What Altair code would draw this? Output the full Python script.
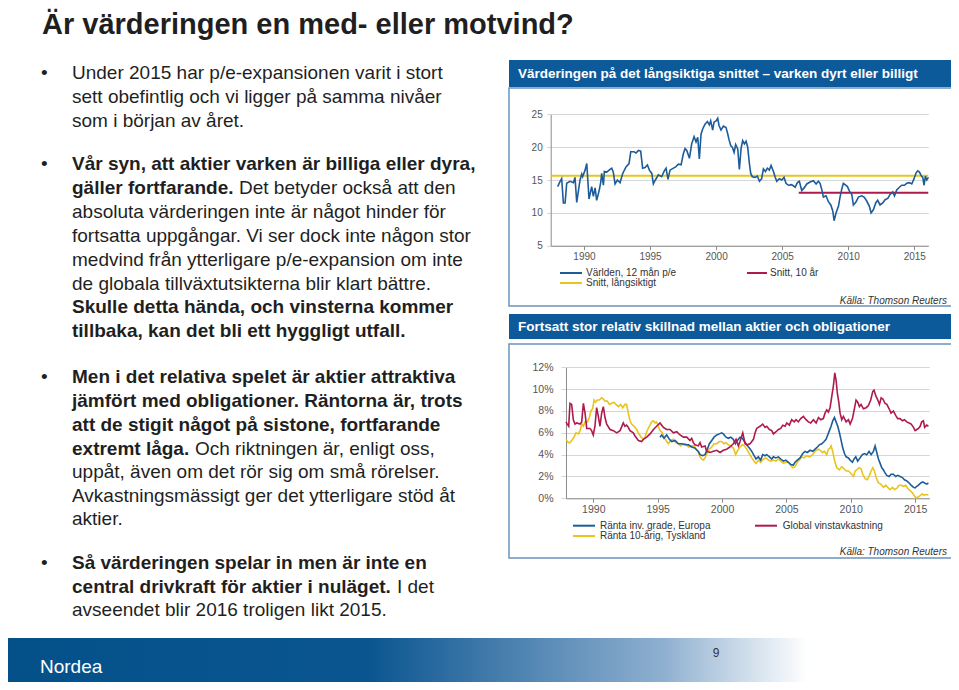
import altair as alt
import pandas as pd

FONT = "Liberation Sans"
W, H = 943, 674
BLUE, YELLOW, RED = "#1d5c99", "#e9c41d", "#ae1a4c"
BAR = "#0d5a9a"
INK = "#1f1f1f"

# ---------------- data: top chart (P/E) ----------------
pe_series = [
    (1988.01, 14.0), (1988.19, 14.8), (1988.31, 15.2), (1988.44, 11.5), (1988.57, 11.5),
    (1988.69, 14.5), (1988.94, 14.8), (1989.20, 14.6), (1989.32, 15.4), (1989.45, 11.6),
    (1989.70, 15.0), (1989.83, 15.9), (1989.90, 15.5), (1990.08, 16.5), (1990.21, 17.5),
    (1990.38, 12.1), (1990.58, 14.0), (1990.71, 12.5), (1990.84, 13.8), (1990.96, 11.9),
    (1991.16, 13.5), (1991.27, 14.7), (1991.34, 16.0), (1991.47, 14.2), (1991.54, 16.3),
    (1991.72, 16.2), (1991.97, 16.6), (1992.10, 16.8), (1992.22, 16.2), (1992.35, 14.4),
    (1992.53, 15.0), (1992.73, 14.6), (1992.93, 16.0), (1993.18, 17.0), (1993.41, 17.5),
    (1993.54, 19.3), (1993.79, 19.3), (1993.94, 19.1), (1994.12, 19.5), (1994.29, 19.4),
    (1994.44, 16.8), (1994.62, 16.9), (1994.80, 17.3), (1994.95, 16.5), (1995.13, 16.0),
    (1995.25, 14.4), (1995.40, 15.0), (1995.63, 15.8), (1995.88, 15.5), (1996.06, 16.3),
    (1996.21, 16.8), (1996.36, 15.1), (1996.51, 16.5), (1996.77, 16.8), (1996.94, 17.0),
    (1997.14, 17.4), (1997.35, 17.3), (1997.52, 19.0), (1997.65, 19.8), (1997.78, 19.5),
    (1997.98, 18.3), (1998.15, 20.5), (1998.33, 21.6), (1998.48, 20.8), (1998.61, 21.5),
    (1998.73, 18.2), (1998.86, 22.0), (1998.99, 22.8), (1999.16, 23.5), (1999.34, 23.9),
    (1999.49, 23.4), (1999.59, 24.0), (1999.74, 22.6), (1999.84, 23.8), (2000.00, 24.0),
    (2000.12, 24.4), (2000.22, 23.3), (2000.37, 22.6), (2000.55, 23.2), (2000.75, 23.0),
    (2000.88, 22.0), (2000.98, 21.1), (2001.11, 20.2), (2001.23, 20.0), (2001.36, 19.2),
    (2001.48, 20.4), (2001.64, 19.7), (2001.76, 16.6), (2001.89, 19.8), (2002.01, 21.0),
    (2002.14, 20.5), (2002.27, 20.9), (2002.39, 20.0), (2002.52, 17.5), (2002.62, 16.0),
    (2002.74, 15.5), (2002.95, 15.4), (2003.12, 15.6), (2003.28, 14.8), (2003.45, 15.2),
    (2003.58, 16.7), (2003.73, 16.3), (2003.88, 16.8), (2004.03, 16.5), (2004.16, 17.2),
    (2004.34, 16.3), (2004.46, 15.5), (2004.59, 14.8), (2004.79, 15.2), (2004.97, 15.0),
    (2005.14, 15.4), (2005.29, 14.5), (2005.47, 14.2), (2005.72, 14.3), (2005.98, 13.9),
    (2006.15, 14.6), (2006.30, 14.8), (2006.48, 13.4), (2006.66, 13.8), (2006.86, 14.4),
    (2007.11, 14.7), (2007.36, 14.9), (2007.57, 14.4), (2007.74, 14.8), (2007.87, 14.5),
    (2007.99, 13.6), (2008.12, 12.4), (2008.32, 12.6), (2008.50, 11.7), (2008.68, 11.2),
    (2008.83, 10.3), (2008.93, 8.8), (2009.08, 10.0), (2009.26, 11.0), (2009.38, 12.4),
    (2009.51, 13.6), (2009.63, 14.5), (2009.76, 14.3), (2009.94, 14.0), (2010.09, 13.3),
    (2010.27, 12.8), (2010.39, 11.2), (2010.57, 11.6), (2010.77, 12.4), (2011.02, 12.6),
    (2011.20, 12.4), (2011.40, 11.8), (2011.60, 11.0), (2011.73, 10.0), (2011.91, 10.5),
    (2012.08, 11.5), (2012.23, 11.9), (2012.41, 11.2), (2012.61, 11.5), (2012.79, 12.0),
    (2012.99, 12.2), (2013.17, 12.8), (2013.37, 13.2), (2013.50, 12.6), (2013.67, 13.5),
    (2013.87, 13.9), (2014.05, 14.2), (2014.25, 14.2), (2014.43, 14.5), (2014.63, 14.6),
    (2014.81, 14.4), (2014.98, 15.2), (2015.14, 16.1), (2015.26, 16.4), (2015.39, 16.2),
    (2015.51, 15.7), (2015.64, 15.4), (2015.74, 14.2), (2015.84, 15.6), (2015.94, 15.0),
    (2016.07, 15.4),
]
avg_names = ["Snitt, långsiktigt", "Snitt, 10 år"]
avg_values = [15.65, 13.07]
avg_start = [1987.48, 2006.25]
avg_end = [2016.06, 2016.06]
top_names = ["Världen, 12 mån p/e", "Snitt, långsiktigt", "Snitt, 10 år"]
top_years = [1990, 1995, 2000, 2005, 2010, 2015]
top_ticks = [5, 10, 15, 20, 25]

# ---------------- data: bottom chart (yields, %) ----------------
earn_yield = [
    (1987.88, 7.0), (1987.98, 6.8), (1988.09, 6.6), (1988.19, 8.7), (1988.32, 8.6),
    (1988.45, 7.2), (1988.58, 6.8), (1988.71, 6.9), (1988.97, 6.8), (1989.10, 7.0),
    (1989.23, 8.7), (1989.36, 7.8), (1989.49, 6.4), (1989.74, 6.4), (1989.87, 6.2),
    (1990.00, 5.8), (1990.13, 6.6), (1990.26, 8.3), (1990.39, 7.5), (1990.52, 6.6),
    (1990.65, 7.8), (1990.78, 8.4), (1990.91, 7.4), (1991.04, 6.8), (1991.30, 6.3),
    (1991.56, 6.2), (1991.82, 6.0), (1992.08, 6.2), (1992.33, 6.9), (1992.46, 6.6),
    (1992.59, 6.7), (1992.72, 6.5), (1992.85, 6.2), (1993.11, 6.0), (1993.24, 5.7),
    (1993.37, 5.5), (1993.50, 5.3), (1993.76, 5.2), (1993.89, 5.4), (1994.15, 5.6),
    (1994.41, 5.9), (1994.67, 6.3), (1994.92, 6.6), (1995.18, 6.9), (1995.44, 6.5),
    (1995.70, 6.3), (1995.96, 6.3), (1996.22, 6.0), (1996.48, 6.1), (1996.74, 5.8),
    (1997.00, 5.6), (1997.26, 5.6), (1997.51, 5.3), (1997.64, 5.5), (1997.77, 5.1),
    (1997.90, 4.9), (1998.16, 4.8), (1998.29, 5.1), (1998.42, 4.7), (1998.68, 4.8),
    (1998.81, 4.3), (1999.07, 4.2), (1999.33, 4.3), (1999.59, 4.4), (1999.85, 4.2),
    (2000.10, 4.4), (2000.36, 4.5), (2000.62, 4.7), (2000.88, 5.0), (2001.09, 5.4),
    (2001.27, 4.8), (2001.40, 5.2), (2001.61, 6.0), (2001.79, 5.0), (2001.92, 4.9),
    (2002.18, 5.0), (2002.44, 5.4), (2002.57, 6.0), (2002.69, 6.4), (2002.95, 6.6),
    (2003.16, 6.8), (2003.34, 6.5), (2003.47, 6.6), (2003.68, 6.3), (2003.86, 6.2),
    (2003.99, 5.9), (2004.20, 6.1), (2004.38, 6.3), (2004.56, 6.4), (2004.72, 6.7),
    (2004.90, 6.6), (2005.03, 6.9), (2005.23, 6.7), (2005.41, 7.2), (2005.60, 7.0),
    (2005.75, 7.2), (2005.93, 7.0), (2006.11, 7.3), (2006.32, 7.5), (2006.53, 7.2),
    (2006.71, 7.0), (2006.89, 6.9), (2007.10, 7.2), (2007.31, 6.9), (2007.49, 7.4),
    (2007.67, 7.2), (2007.87, 7.3), (2008.00, 7.8), (2008.13, 8.1), (2008.26, 7.9),
    (2008.39, 8.3), (2008.52, 9.3), (2008.65, 10.3), (2008.76, 11.5), (2008.86, 10.8),
    (2008.96, 9.6), (2009.07, 8.8), (2009.17, 7.8), (2009.30, 7.2), (2009.43, 7.5),
    (2009.64, 7.0), (2009.82, 7.2), (2009.95, 6.8), (2010.13, 7.3), (2010.28, 8.2),
    (2010.41, 9.0), (2010.54, 8.8), (2010.67, 8.4), (2010.80, 8.6), (2010.98, 8.2),
    (2011.19, 8.3), (2011.37, 8.5), (2011.55, 9.0), (2011.71, 9.8), (2011.81, 9.9),
    (2011.94, 9.4), (2012.10, 9.0), (2012.23, 8.6), (2012.36, 9.2), (2012.49, 9.1),
    (2012.67, 8.7), (2012.80, 8.6), (2012.98, 8.2), (2013.13, 7.8), (2013.31, 8.0),
    (2013.49, 7.6), (2013.65, 7.3), (2013.83, 7.3), (2014.01, 7.1), (2014.17, 7.2),
    (2014.35, 7.0), (2014.53, 6.9), (2014.69, 6.8), (2014.87, 6.5), (2015.00, 6.2),
    (2015.13, 6.3), (2015.26, 6.4), (2015.39, 6.6), (2015.51, 7.0), (2015.64, 7.1),
    (2015.74, 6.5), (2015.90, 6.7), (2016.03, 6.6),
]
ig_yield = [
    (1995.18, 5.6), (1995.31, 5.8), (1995.49, 5.5), (1995.70, 5.8), (1995.91, 5.4),
    (1996.09, 5.2), (1996.35, 5.3), (1996.61, 5.0), (1996.87, 5.0), (1997.13, 4.9),
    (1997.39, 4.9), (1997.64, 4.7), (1997.90, 4.6), (1998.16, 4.3), (1998.29, 4.0),
    (1998.50, 3.9), (1998.68, 4.0), (1998.86, 4.5), (1999.02, 5.0), (1999.20, 5.3),
    (1999.38, 5.6), (1999.59, 5.8), (1999.79, 5.9), (1999.97, 6.0), (2000.10, 5.9),
    (2000.31, 5.6), (2000.49, 5.5), (2000.67, 5.6), (2000.88, 5.4), (2001.04, 5.0),
    (2001.19, 5.3), (2001.40, 5.6), (2001.58, 5.5), (2001.74, 5.2), (2001.92, 4.9),
    (2002.12, 4.6), (2002.31, 4.3), (2002.49, 3.9), (2002.64, 3.6), (2002.82, 3.8),
    (2003.00, 3.5), (2003.16, 4.0), (2003.34, 3.9), (2003.47, 4.0), (2003.68, 3.8),
    (2003.86, 3.6), (2003.99, 3.8), (2004.17, 3.7), (2004.38, 3.8), (2004.56, 3.6),
    (2004.77, 3.4), (2004.95, 3.5), (2005.16, 3.3), (2005.34, 3.1), (2005.54, 3.05),
    (2005.67, 3.3), (2005.85, 3.5), (2006.06, 3.7), (2006.27, 4.1), (2006.45, 4.3),
    (2006.63, 4.2), (2006.84, 4.4), (2007.05, 4.3), (2007.23, 4.5), (2007.41, 4.7),
    (2007.56, 4.9), (2007.75, 5.0), (2007.93, 5.2), (2008.08, 5.4), (2008.21, 5.8),
    (2008.34, 6.2), (2008.47, 6.6), (2008.60, 7.1), (2008.73, 7.4), (2008.86, 7.0),
    (2008.99, 6.6), (2009.12, 6.0), (2009.25, 5.3), (2009.38, 4.6), (2009.51, 4.1),
    (2009.64, 3.8), (2009.82, 3.7), (2009.95, 3.5), (2010.13, 3.3), (2010.26, 3.6),
    (2010.39, 3.8), (2010.54, 3.4), (2010.72, 3.7), (2010.90, 4.0), (2011.06, 4.1),
    (2011.24, 4.0), (2011.42, 4.3), (2011.58, 4.0), (2011.76, 4.3), (2011.89, 4.8),
    (2012.02, 4.2), (2012.15, 3.6), (2012.28, 3.2), (2012.41, 2.8), (2012.54, 2.6),
    (2012.67, 2.3), (2012.80, 2.1), (2012.98, 2.0), (2013.13, 2.2), (2013.31, 2.2),
    (2013.49, 2.0), (2013.65, 2.1), (2013.83, 2.0), (2014.01, 1.9), (2014.17, 1.7),
    (2014.35, 1.6), (2014.53, 1.4), (2014.69, 1.2), (2014.87, 1.0), (2015.00, 0.95),
    (2015.13, 1.1), (2015.26, 1.2), (2015.44, 1.4), (2015.59, 1.5), (2015.74, 1.4),
    (2015.90, 1.3), (2016.03, 1.4),
]
bund_yield = [
    (1987.88, 5.4), (1988.06, 5.1), (1988.19, 5.1), (1988.45, 5.5), (1988.66, 6.0),
    (1988.84, 5.9), (1988.97, 6.2), (1989.10, 6.8), (1989.23, 6.6), (1989.36, 7.0),
    (1989.54, 7.0), (1989.69, 7.4), (1989.82, 8.0), (1989.95, 8.2), (1990.06, 9.0),
    (1990.18, 8.8), (1990.31, 9.0), (1990.47, 9.0), (1990.65, 9.2), (1990.78, 9.1),
    (1990.91, 8.9), (1991.09, 8.9), (1991.25, 8.6), (1991.43, 8.7), (1991.61, 8.8),
    (1991.76, 8.6), (1991.95, 8.4), (1992.13, 8.6), (1992.28, 8.3), (1992.46, 8.6),
    (1992.59, 8.6), (1992.72, 7.8), (1992.85, 7.1), (1992.98, 6.8), (1993.16, 6.6),
    (1993.37, 6.3), (1993.50, 6.0), (1993.71, 5.6), (1993.89, 5.4), (1994.02, 5.6),
    (1994.15, 6.1), (1994.35, 6.6), (1994.54, 7.0), (1994.67, 7.1), (1994.80, 6.9),
    (1994.92, 7.0), (1995.05, 6.6), (1995.18, 6.2), (1995.37, 6.0), (1995.49, 5.6),
    (1995.65, 5.3), (1995.83, 5.0), (1996.01, 5.3), (1996.22, 5.4), (1996.40, 5.1),
    (1996.61, 5.0), (1996.79, 4.8), (1997.00, 5.0), (1997.18, 5.0), (1997.39, 4.7),
    (1997.64, 4.8), (1997.83, 4.8), (1997.98, 4.5), (1998.16, 4.2), (1998.29, 3.8),
    (1998.42, 3.6), (1998.55, 3.5), (1998.68, 3.7), (1998.86, 4.2), (1999.02, 4.5),
    (1999.20, 4.7), (1999.38, 5.0), (1999.59, 5.0), (1999.79, 5.2), (1999.97, 5.2),
    (2000.16, 5.0), (2000.31, 5.1), (2000.49, 4.9), (2000.67, 4.8), (2000.88, 4.6),
    (2001.06, 4.0), (2001.22, 4.4), (2001.40, 4.7), (2001.58, 4.9), (2001.74, 4.8),
    (2001.92, 4.5), (2002.12, 4.1), (2002.31, 3.7), (2002.49, 3.4), (2002.64, 3.2),
    (2002.82, 3.5), (2003.00, 3.3), (2003.21, 3.6), (2003.42, 3.7), (2003.60, 3.5),
    (2003.78, 3.4), (2003.99, 3.5), (2004.20, 3.4), (2004.38, 3.6), (2004.56, 3.4),
    (2004.77, 3.2), (2004.95, 3.3), (2005.16, 3.3), (2005.34, 3.0), (2005.49, 2.8),
    (2005.67, 2.9), (2005.85, 3.3), (2006.01, 3.5), (2006.19, 3.8), (2006.37, 3.7),
    (2006.58, 3.9), (2006.79, 3.8), (2006.97, 3.9), (2007.15, 4.2), (2007.31, 4.4),
    (2007.49, 4.5), (2007.62, 4.4), (2007.80, 4.2), (2007.95, 4.3), (2008.13, 4.0),
    (2008.26, 4.5), (2008.39, 4.6), (2008.47, 4.8), (2008.60, 4.3), (2008.73, 3.5),
    (2008.91, 2.8), (2009.12, 2.6), (2009.30, 2.9), (2009.48, 2.7), (2009.64, 2.5),
    (2009.82, 2.5), (2010.00, 2.3), (2010.21, 2.0), (2010.34, 2.5), (2010.46, 2.6),
    (2010.65, 2.8), (2010.80, 2.7), (2010.93, 2.2), (2011.11, 1.8), (2011.29, 1.7),
    (2011.45, 2.1), (2011.58, 2.5), (2011.71, 2.8), (2011.84, 2.5), (2011.97, 1.9),
    (2012.15, 1.4), (2012.33, 1.3), (2012.54, 1.0), (2012.72, 1.2), (2012.87, 1.0),
    (2013.05, 0.8), (2013.24, 1.0), (2013.39, 0.8), (2013.57, 0.9), (2013.75, 1.2),
    (2013.91, 1.2), (2014.09, 1.1), (2014.27, 1.2), (2014.43, 0.9), (2014.61, 0.7),
    (2014.79, 0.5), (2014.95, 0.2), (2015.08, 0.05), (2015.20, 0.1), (2015.39, 0.25),
    (2015.54, 0.4), (2015.69, 0.3), (2015.85, 0.35), (2016.03, 0.3),
]
bot_names = ["Ränta inv. grade, Europa", "Ränta 10-årig, Tyskland", "Global vinstavkastning"]
bot_years = [1990, 1995, 2000, 2005, 2010, 2015]
bot_ticks = [0, 2, 4, 6, 8, 10, 12]

# ---------------- slide text ----------------
slide_title = "Är värderingen en med- eller motvind?"
top_panel_title = "Värderingen på det långsiktiga snittet – varken dyrt eller billigt"
bot_panel_title = "Fortsatt stor relativ skillnad mellan aktier och obligationer"
source_text = "Källa: Thomson Reuters"

one = pd.DataFrame({"k": [0]})


def txt(s, x, y, size=19, weight="normal", color=INK, align="left",
        baseline="middle", style="normal"):
    return alt.Chart(one).mark_text(
        font=FONT, fontSize=size, fontWeight=weight, color=color, align=align,
        baseline=baseline, fontStyle=style,
    ).encode(x=alt.value(x), y=alt.value(y), text=alt.value(s))


def rect(x, x2, y, y2, **kw):
    return alt.Chart(one).mark_rect(**kw).encode(
        x=alt.value(x), x2=alt.value(x2), y=alt.value(y), y2=alt.value(y2))


def seg(x, x2, y, color):
    return alt.Chart(one).mark_rule(color=color, strokeWidth=2).encode(
        x=alt.value(x), x2=alt.value(x2), y=alt.value(y))


decor = []
# footer band
footer_fill = alt.LinearGradient(
    gradient="linear", x1=0, x2=1, y1=0, y2=0,
    stops=[alt.GradientStop(color="#04518a", offset=0),
           alt.GradientStop(color="#0a5590", offset=0.45),
           alt.GradientStop(color="#8fb0d0", offset=0.82),
           alt.GradientStop(color="#ffffff", offset=1)])
decor.append(rect(0, 800, 630, 674, fill=footer_fill))
decor.append(txt("Nordea", 32, 659, size=19, color="#ffffff"))
decor.append(txt("9", 708, 645, size=12, color="#333333", align="center"))

# title
decor.append(txt(slide_title, 34, 26, size=29, weight="bold", baseline="alphabetic"))

# bullets
for by in [65, 156, 369, 555]:
    decor.append(txt("•", 33, by, size=19))

L = 64
normal_lines = [
    ("Under 2015 har p/e-expansionen varit i stort", 65),
    ("sett obefintlig  och vi ligger på samma nivåer", 89),
    ("som i början av året.", 113),
    ("absoluta värderingen inte är något hinder för", 204),
    ("fortsatta uppgångar. Vi ser dock inte någon stor", 228),
    ("medvind från ytterligare p/e-expansion om inte", 252),
    ("de globala tillväxtutsikterna blir klart bättre.", 276),
    ("uppåt, även om det rör sig om små rörelser.", 464),
    ("Avkastningsmässigt ger det ytterligare stöd åt", 488),
    ("aktier.", 511),
    ("avseendet blir 2016 troligen likt 2015.", 602),
]
bold_lines = [
    ("Vår syn, att aktier varken är billiga eller dyra,", 156),
    ("gäller fortfarande.", 180),
    ("Skulle detta hända, och vinsterna kommer", 299),
    ("tillbaka, kan det bli ett hyggligt utfall.", 323),
    ("Men i det relativa spelet är aktier attraktiva", 369),
    ("jämfört med obligationer. Räntorna är, trots", 393),
    ("att de stigit något på sistone, fortfarande", 417),
    ("extremt låga.", 441),
    ("Så värderingen spelar in men är inte en", 555),
    ("central drivkraft för aktier i nuläget.", 579),
]
for s, y in normal_lines:
    decor.append(txt(s, L, y))
for s, y in bold_lines:
    decor.append(txt(s, L, y, weight="bold"))
decor.append(txt("Det betyder också att den", 231, 180))
decor.append(txt("Och riktningen är, enligt oss,", 187, 441))
decor.append(txt("I det", 389, 579))

# panels (outlines are unfilled so the axes underneath stay visible)
decor.append(rect(501, 949, 52, 79, fill=BAR))
decor.append(rect(501, 949, 80, 298, filled=False, color="#6b93bd", strokeWidth=1.5))
decor.append(txt(top_panel_title, 510, 65.5, size=13.5, weight="bold", color="#ffffff"))
decor.append(rect(501, 949, 306, 331, fill=BAR))
decor.append(rect(501, 949, 336, 550, filled=False, color="#6b93bd", strokeWidth=1.5))
decor.append(txt(bot_panel_title, 510, 318.5, size=13.5, weight="bold", color="#ffffff"))

# legends + sources
LEG = 10
decor += [
    seg(552, 574, 265, BLUE), txt(top_names[0], 578, 265, size=LEG, color="#333"),
    seg(552, 574, 275, YELLOW), txt(top_names[1], 578, 275, size=LEG, color="#333"),
    seg(739, 759, 265, RED), txt(top_names[2], 762, 265, size=LEG, color="#333"),
    txt(source_text, 939, 292.5, size=10, color="#333", align="right", style="italic"),
    seg(565, 587, 517.7, BLUE), txt(bot_names[0], 592, 517.7, size=LEG, color="#333"),
    seg(565, 587, 528, YELLOW), txt(bot_names[1], 592, 528, size=LEG, color="#333"),
    seg(747, 769, 517.7, RED), txt(bot_names[2], 774.7, 517.7, size=LEG, color="#333"),
    txt(source_text, 939, 543.7, size=10, color="#333", align="right", style="italic"),
]

# ---------------- top chart ----------------
pe_df = pd.DataFrame(pe_series, columns=["year", "value"])
pe_df["series"] = top_names[0]
avg_df = pd.DataFrame({"start": avg_start, "end": avg_end, "value": avg_values, "series": avg_names})

xs_top = alt.Scale(domain=[1987.48, 2016.06], range=[542.7, 920.3], nice=False, zero=False)
ys_top = alt.Scale(domain=[5, 25], range=[237.7, 106.3], nice=False, zero=False)
cs_top = alt.Scale(domain=top_names, range=[BLUE, YELLOW, RED])

ax_top_x = alt.Axis(values=top_years, format="d", orient="bottom", offset=237.7 - H,
                    grid=False, tickSize=4, tickColor="#8c8c8c", domainColor="#8c8c8c",
                    labelFont=FONT, labelFontSize=10, labelColor="#555555",
                    labelPadding=2, labelFlush=False, labelOverlap=False, title=None)
ax_top_y = alt.Axis(values=top_ticks, orient="left", offset=-542.7, grid=True,
                    gridColor="#d6d6d6", tickSize=4, tickColor="#d6d6d6",
                    domainColor="#8c8c8c", labelFont=FONT, labelFontSize=10,
                    labelColor="#555555", labelPadding=4.5, labelOverlap=False, title=None)

avg_rules = alt.Chart(avg_df).mark_rule(strokeWidth=2).encode(
    x=alt.X("start:Q", scale=xs_top, axis=ax_top_x),
    x2="end:Q",
    y=alt.Y("value:Q", scale=ys_top, axis=ax_top_y),
    color=alt.Color("series:N", scale=cs_top, legend=None),
)
pe_line = alt.Chart(pe_df).mark_line(strokeWidth=1.6).encode(
    x=alt.X("year:Q", scale=xs_top, axis=ax_top_x),
    y=alt.Y("value:Q", scale=ys_top, axis=ax_top_y),
    color=alt.Color("series:N", scale=cs_top, legend=None),
)
top_chart = alt.layer(avg_rules, pe_line)

# ---------------- bottom chart ----------------
frames = []
for name, ser in zip(bot_names, [ig_yield, bund_yield, earn_yield]):
    d = pd.DataFrame(ser, columns=["year", "value"])
    d["series"] = name
    frames.append(d)

xs_bot = alt.Scale(domain=[1987.88, 2016.1], range=[558, 921.3], nice=False, zero=False)
ys_bot = alt.Scale(domain=[0, 12], range=[490.3, 359.3], nice=False, zero=False)
cs_bot = alt.Scale(domain=bot_names, range=[BLUE, YELLOW, RED])

ax_bot_x = alt.Axis(values=bot_years, format="d", orient="bottom", offset=490.3 - H,
                    grid=False, tickSize=4, tickColor="#8c8c8c", domainColor="#8c8c8c",
                    labelFont=FONT, labelFontSize=10.5, labelColor="#555555",
                    labelPadding=2, labelFlush=False, labelOverlap=False, title=None)
ax_bot_y = alt.Axis(values=bot_ticks, orient="left", offset=-558, grid=True,
                    gridColor="#d6d6d6", tickSize=5, tickColor="#d6d6d6",
                    domainColor="#8c8c8c", labelFont=FONT, labelFontSize=10.5,
                    labelColor="#555555", labelPadding=8, labelOverlap=False,
                    labelExpr="datum.value + '%'", title=None)


def yline(df):
    return alt.Chart(df).mark_line(strokeWidth=1.6).encode(
        x=alt.X("year:Q", scale=xs_bot, axis=ax_bot_x),
        y=alt.Y("value:Q", scale=ys_bot, axis=ax_bot_y),
        color=alt.Color("series:N", scale=cs_bot, legend=None),
    )


bot_chart = alt.layer(yline(frames[1]), yline(frames[0]), yline(frames[2]))

chart = alt.layer(*decor, top_chart, bot_chart).resolve_scale(
    x="independent", y="independent", color="independent"
).properties(
    width=W, height=H, padding=0, autosize=alt.AutoSizeParams(type="none")
).configure_view(strokeWidth=0)

chart.save("out.html", embed_options={"renderer": "svg", "actions": False})
